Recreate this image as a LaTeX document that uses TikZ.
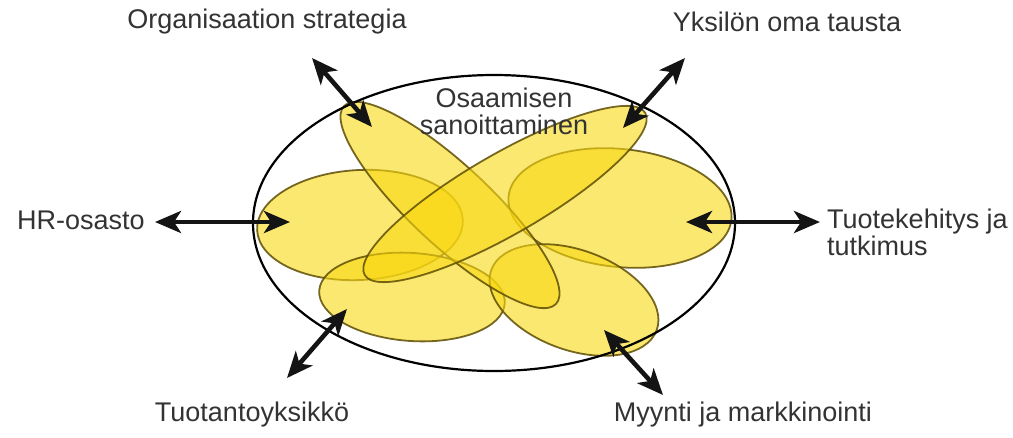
\documentclass[tikz,border=0pt]{standalone}
\usepackage{fontspec}
\setmainfont{Liberation Sans}
\usetikzlibrary{arrows.meta}
\definecolor{txt}{HTML}{333333}
\definecolor{yel}{HTML}{F9D812}
\definecolor{olive}{HTML}{5E4E05}
\tikzset{
  blob/.style={fill=yel, fill opacity=0.6, draw=olive, draw opacity=0.85, line width=1.8pt},
  outer/.style={draw=black, line width=2.2pt},
  dbl/.style={line width=4.6pt, draw=black!92,
    {Stealth[length=26pt,width=22pt,inset=7pt]}-{Stealth[length=26pt,width=22pt,inset=7pt]}},
  lbl/.style={text=txt, font=\fontsize{27}{30}\selectfont, inner sep=0pt},
}
\begin{document}
\begin{tikzpicture}[x=1pt,y=-1pt]
\useasboundingbox (0,0) rectangle (1013,437);
% yellow ellipses
\draw[blob, rotate around={3:(360,225)}] (360,225) ellipse [x radius=103pt, y radius=55pt];
\draw[blob, rotate around={-6:(620,208)}] (620,208) ellipse [x radius=112pt, y radius=59pt];
\draw[blob, rotate around={-4:(412,297)}] (412,297) ellipse [x radius=93pt, y radius=44pt];
\draw[blob, rotate around={-20:(574,300)}] (574,300) ellipse [x radius=88pt, y radius=50pt];
\draw[blob, rotate around={-43:(450,205)}] (450,205) ellipse [x radius=145pt, y radius=40pt];
\draw[blob, rotate around={30:(505,194)}] (505,194) ellipse [x radius=162pt, y radius=40pt];
% outer ellipse
\draw[outer] (494,223) ellipse [x radius=241pt, y radius=148pt];
% center text
\node[lbl, align=center] (center) at (504,111) {Osaamisen\\[-3pt]sanoittaminen};
% labels
\node[lbl] (org) at (267,22) {Organisaation strategia};
\node[lbl] (yks) at (787,22) {Yksilön oma tausta};
\node[lbl, anchor=west] (hr) at (17,220) {HR-osasto};
\node[lbl, anchor=west, align=left] (tk) at (827,232) {Tuotekehitys ja\\[-3pt]tutkimus};
\node[lbl] (tuo) at (252,415) {Tuotantoyksikkö};
\node[lbl] (myy) at (743,415) {Myynti ja markkinointi};
% arrow end points
\coordinate (o1) at (312,58);  \coordinate (o2) at (372,127);
\coordinate (y1) at (685,58);  \coordinate (y2) at (623,128);
\coordinate (h1) at (155,222); \coordinate (h2) at (290,222);
\coordinate (t1) at (686,222); \coordinate (t2) at (820,222);
\coordinate (p1) at (347,309); \coordinate (p2) at (287,378);
\coordinate (m1) at (604,330); \coordinate (m2) at (663,395);
\draw[dbl] (o1) -- (o2);
\draw[dbl] (y1) -- (y2);
\draw[dbl] (h1) -- (h2);
\draw[dbl] (t1) -- (t2);
\draw[dbl] (p1) -- (p2);
\draw[dbl] (m1) -- (m2);
\end{tikzpicture}
\end{document}
